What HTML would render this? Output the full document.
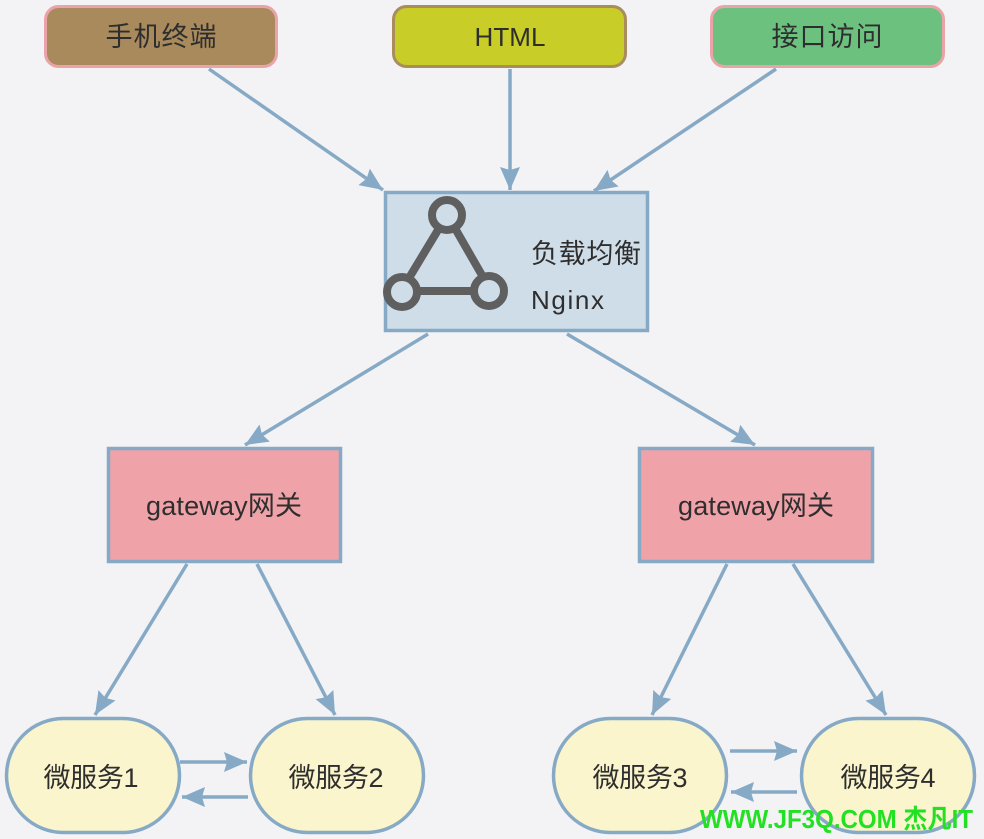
<!DOCTYPE html>
<html><head><meta charset="utf-8"><style>
html,body{margin:0;padding:0;background:#f3f3f5;}
svg{display:block;}
text{font-family:"Liberation Sans","Noto Sans CJK SC",sans-serif;fill:#2e2e2e;}
</style></head><body>
<svg width="984" height="839" viewBox="0 0 984 839" xmlns="http://www.w3.org/2000/svg">
<defs>
<marker id="a" markerUnits="userSpaceOnUse" markerWidth="26" markerHeight="22" refX="23" refY="10" orient="auto" overflow="visible">
<path d="M0,0 L23,10 L0,20 L3,10 z" fill="#86a9c6"/>
</marker>
</defs>
<rect width="984" height="839" fill="#f3f3f5"/>
<!-- connectors -->
<g stroke="#86a9c6" stroke-width="3.5" fill="none" marker-end="url(#a)">
<line x1="209" y1="69" x2="383" y2="190"/>
<line x1="510" y1="69" x2="510" y2="190"/>
<line x1="776" y1="69" x2="594" y2="191"/>
<line x1="428" y1="334" x2="245" y2="445"/>
<line x1="567" y1="334" x2="755" y2="445"/>
<line x1="187" y1="564" x2="95" y2="715"/>
<line x1="257" y1="564" x2="335" y2="715"/>
<line x1="727" y1="564" x2="652" y2="715"/>
<line x1="793" y1="564" x2="886" y2="715"/>
<line x1="180" y1="762" x2="247" y2="762"/>
<line x1="248" y1="797" x2="182" y2="797"/>
<line x1="730" y1="751" x2="797" y2="751"/>
<line x1="797" y1="792" x2="731" y2="792"/>
</g>
<!-- top boxes -->
<rect x="45.5" y="6.5" width="231" height="60" rx="13" fill="#a98a5c" stroke="#e9a3a9" stroke-width="3"/>
<text x="161" y="46" font-size="27" text-anchor="middle" textLength="111">手机终端</text>
<rect x="393.5" y="6.5" width="232" height="60" rx="13" fill="#c8cd28" stroke="#a98d5c" stroke-width="3"/>
<text x="510" y="46" font-size="26" text-anchor="middle" textLength="71">HTML</text>
<rect x="711.5" y="6.5" width="232" height="60" rx="13" fill="#6cc17f" stroke="#e9a3a9" stroke-width="3"/>
<text x="827" y="46" font-size="27" text-anchor="middle" textLength="111">接口访问</text>
<!-- nginx -->
<rect x="385.5" y="192.5" width="262" height="138" fill="#cfdde9" stroke="#86a9c6" stroke-width="3.5"/>
<g stroke="#5f5f5f" stroke-width="8" fill="none">
<line x1="438" y1="230" x2="409" y2="278"/>
<line x1="456" y1="230" x2="483" y2="277"/>
<line x1="418" y1="291" x2="473" y2="291"/>
<circle cx="447" cy="215" r="15"/>
<circle cx="402" cy="292" r="15"/>
<circle cx="489" cy="291" r="15"/>
</g>
<text x="531" y="263" font-size="27" textLength="110">负载均衡</text>
<text x="531" y="309" font-size="26" textLength="73">Nginx</text>
<!-- gateways -->
<rect x="108.5" y="448.5" width="232" height="113" fill="#f0a2a9" stroke="#86a9c6" stroke-width="3.5"/>
<text x="224" y="515" font-size="27" text-anchor="middle" textLength="156">gateway网关</text>
<rect x="639.5" y="448.5" width="233" height="113" fill="#f0a2a9" stroke="#86a9c6" stroke-width="3.5"/>
<text x="756" y="515" font-size="27" text-anchor="middle" textLength="156">gateway网关</text>
<!-- services -->
<g fill="#faf5cc" stroke="#86a9c6" stroke-width="3.5">
<rect x="6.5" y="718.5" width="173" height="114" rx="57"/>
<rect x="250.5" y="718.5" width="173" height="114" rx="57"/>
<rect x="553.5" y="718.5" width="173" height="114" rx="57"/>
<rect x="801.5" y="718.5" width="173" height="114" rx="57"/>
</g>
<text x="91" y="787" font-size="27" text-anchor="middle" textLength="95">微服务1</text>
<text x="336" y="787" font-size="27" text-anchor="middle" textLength="95">微服务2</text>
<text x="640" y="787" font-size="27" text-anchor="middle" textLength="95">微服务3</text>
<text x="888" y="787" font-size="27" text-anchor="middle" textLength="95">微服务4</text>
<!-- watermark -->
<text x="700" y="828" font-size="26" font-weight="bold" textLength="273" lengthAdjust="spacingAndGlyphs" style="fill:#22e022">WWW.JF3Q.COM 杰凡IT</text>
</svg>
</body></html>
